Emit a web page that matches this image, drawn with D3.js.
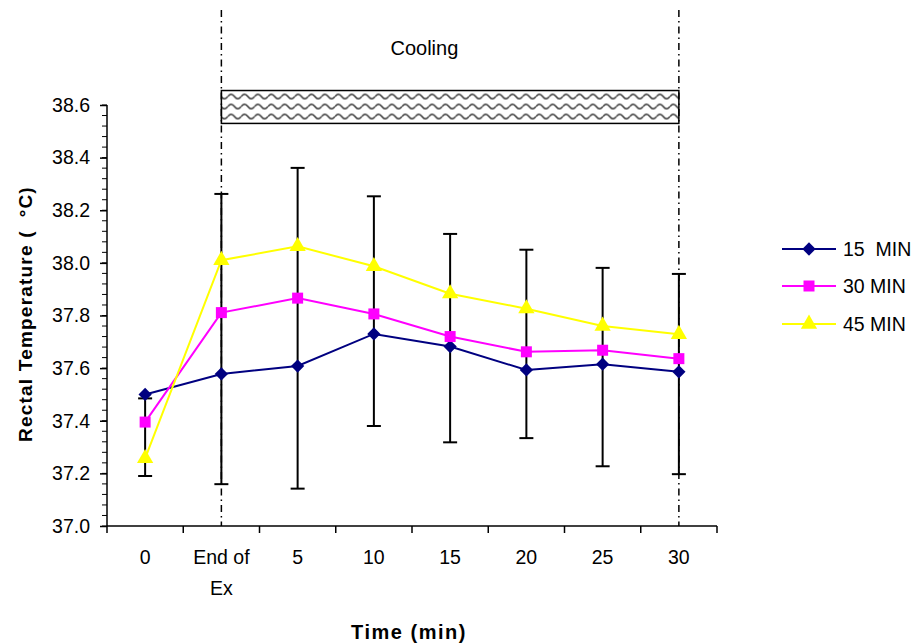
<!DOCTYPE html>
<html><head><meta charset="utf-8">
<script src="https://cdn.jsdelivr.net/npm/d3@7/dist/d3.min.js"></script>
<style>body{margin:0;background:#fff}svg{display:block;font-family:"Liberation Sans",Arial,sans-serif}</style>
</head><body><svg id="c" width="915" height="644"></svg>
<script>
const categories = ["0", "End of\nEx", "5", "10", "15", "20", "25", "30"];
const seriesNames = ["15  MIN", "30 MIN", "45 MIN"];
const min15 = [37.50, 37.578, 37.608, 37.730, 37.682, 37.593, 37.615, 37.586];
const min30 = [37.395, 37.811, 37.866, 37.806, 37.720, 37.662, 37.668, 37.636];
const min45 = [37.257, 38.010, 38.063, 37.987, 37.883, 37.826, 37.760, 37.729];
const errTop = [37.485, 38.262, 38.361, 38.253, 38.110, 38.050, 37.981, 37.958];
const errBottom = [37.19, 37.159, 37.142, 37.380, 37.318, 37.334, 37.227, 37.197];
const yTicks = [37.0, 37.2, 37.4, 37.6, 37.8, 38.0, 38.2, 38.4, 38.6];
const coolingStart = "End of\nEx", coolingEnd = "30";
const coolingBand = [38.53, 38.655];

const svg = d3.select("#c");
const x = d3.scaleBand().domain(categories).range([107, 717]).padding(0);
const y = d3.scaleLinear().domain([37.0, 38.6]).range([526, 105]);
const cx = c => x(c) + x.bandwidth() / 2;

// pattern
const defs = svg.append("defs");
const pat = defs.append("pattern").attr("id", "wave").attr("patternUnits", "userSpaceOnUse")
  .attr("width", 13.4).attr("height", 10).attr("y", y(coolingBand[1]) + 1);
pat.append("rect").attr("width", 13.4).attr("height", 10).attr("fill", "#fff");
pat.append("path").attr("d", "M0,5 Q3.35,0.5 6.7,5 T13.4,5").attr("fill", "none").attr("stroke", "#333").attr("stroke-width", 1.4);

// cooling box
svg.append("rect").attr("x", cx(coolingStart)).attr("y", y(coolingBand[1]))
  .attr("width", cx(coolingEnd) - cx(coolingStart)).attr("height", y(coolingBand[0]) - y(coolingBand[1]))
  .attr("fill", "url(#wave)").attr("stroke", "#000").attr("stroke-width", 1.5);
svg.append("text").attr("x", cx(coolingStart) + 203).attr("y", 55)
  .attr("text-anchor", "middle").attr("font-size", 20).text("Cooling");

// dash-dot lines
[coolingStart, coolingEnd].forEach(c => {
  svg.append("line").attr("x1", cx(c)).attr("x2", cx(c)).attr("y1", 10).attr("y2", 526)
    .attr("stroke", "#000").attr("stroke-width", 1.5).attr("stroke-dasharray", "7,4,1.5,4");
});

// axes
const g = svg.append("g");
g.append("line").attr("x1", 107).attr("x2", 107).attr("y1", y(38.6)).attr("y2", y(37.0)).attr("stroke", "#000").attr("stroke-width", 1.5);
g.append("line").attr("x1", 107).attr("x2", 717).attr("y1", y(37.0)).attr("y2", y(37.0)).attr("stroke", "#000").attr("stroke-width", 1.5);
const minor = d3.range(0, 41).map(i => 37.0 + i * 0.04);
g.selectAll(".mn").data(minor).join("line").attr("x1", 102).attr("x2", 107)
  .attr("y1", d => y(d)).attr("y2", d => y(d)).attr("stroke", "#000").attr("stroke-width", 1);
const yAxis = d3.axisLeft(y).tickValues(yTicks).tickFormat(d3.format(".1f")).tickSize(7).tickPadding(10);
const ya = svg.append("g").attr("transform", "translate(107,0)").call(yAxis);
ya.select(".domain").remove();
ya.selectAll(".tick line").attr("stroke-width", 1.5);
ya.selectAll("text").attr("font-size", 19.5).attr("fill", "#000").attr("font-family", "Liberation Sans, Arial, sans-serif");

// x ticks at band boundaries
const bounds = categories.map(c => x(c)).concat([x.range()[1]]);
g.selectAll(".xt").data(bounds).join("line").attr("x1", d => d).attr("x2", d => d)
  .attr("y1", 526).attr("y2", 533).attr("stroke", "#000").attr("stroke-width", 1.5);
const xl = svg.append("g");
categories.forEach(c => {
  const t = xl.append("text").attr("x", cx(c)).attr("y", 564).attr("text-anchor", "middle").attr("font-size", 19.5);
  c.split("\n").forEach((s, i) => t.append("tspan").attr("x", cx(c)).attr("dy", i ? 31 : 0).text(s));
});

// titles
svg.append("text").attr("x", 409).attr("y", 639).attr("text-anchor", "middle").attr("font-size", 20)
  .attr("font-weight", "bold").attr("letter-spacing", 1.5).text("Time (min)");
svg.append("text").attr("transform", "translate(32,314) rotate(-90)").attr("text-anchor", "middle")
  .attr("font-size", 19).attr("font-weight", "bold").attr("letter-spacing", 1.2).style("white-space", "pre")
  .text("Rectal Temperature (  °C)");

// error bars
const eb = svg.append("g").attr("stroke", "#000").attr("stroke-width", 2);
categories.forEach((c, i) => {
  const xc = cx(c);
  eb.append("line").attr("x1", xc).attr("x2", xc).attr("y1", y(errTop[i])).attr("y2", y(errBottom[i]));
  [errTop[i], errBottom[i]].forEach(v => eb.append("line").attr("x1", xc - 7).attr("x2", xc + 7).attr("y1", y(v)).attr("y2", y(v)));
});

// series
const series = [
  {name: seriesNames[0], vals: min15, color: "#000080", sym: d3.symbolSquare, size: 88, rot: 45},
  {name: seriesNames[1], vals: min30, color: "#FF00FF", sym: d3.symbolSquare, size: 121, rot: 0},
  {name: seriesNames[2], vals: min45, color: "#FFFF00", sym: d3.symbolTriangle, size: 115, rot: 0}
];
const line = d3.line().x((d, i) => cx(categories[i])).y(d => y(d));
series.forEach(s => {
  svg.append("path").datum(s.vals).attr("d", line).attr("fill", "none").attr("stroke", s.color).attr("stroke-width", 2);
});
series.forEach(s => {
  svg.selectAll(null).data(s.vals).join("path")
    .attr("transform", (d, i) => `translate(${cx(categories[i])},${y(d)}) rotate(${s.rot})`)
    .attr("d", d3.symbol().type(s.sym).size(s.size)).attr("fill", s.color);
});

// legend
const legY = [249, 286, 324];
series.forEach((s, i) => {
  const lg = svg.append("g").attr("transform", `translate(0,${legY[i]})`);
  lg.append("line").attr("x1", 782).attr("x2", 836).attr("stroke", s.color).attr("stroke-width", 2);
  lg.append("path").attr("transform", `translate(809,0) rotate(${s.rot})`).attr("d", d3.symbol().type(s.sym).size(s.size)).attr("fill", s.color);
  lg.append("text").attr("x", 843).attr("y", 7).attr("font-size", 19.5).style("white-space", "pre").text(s.name);
});
</script></body></html>
